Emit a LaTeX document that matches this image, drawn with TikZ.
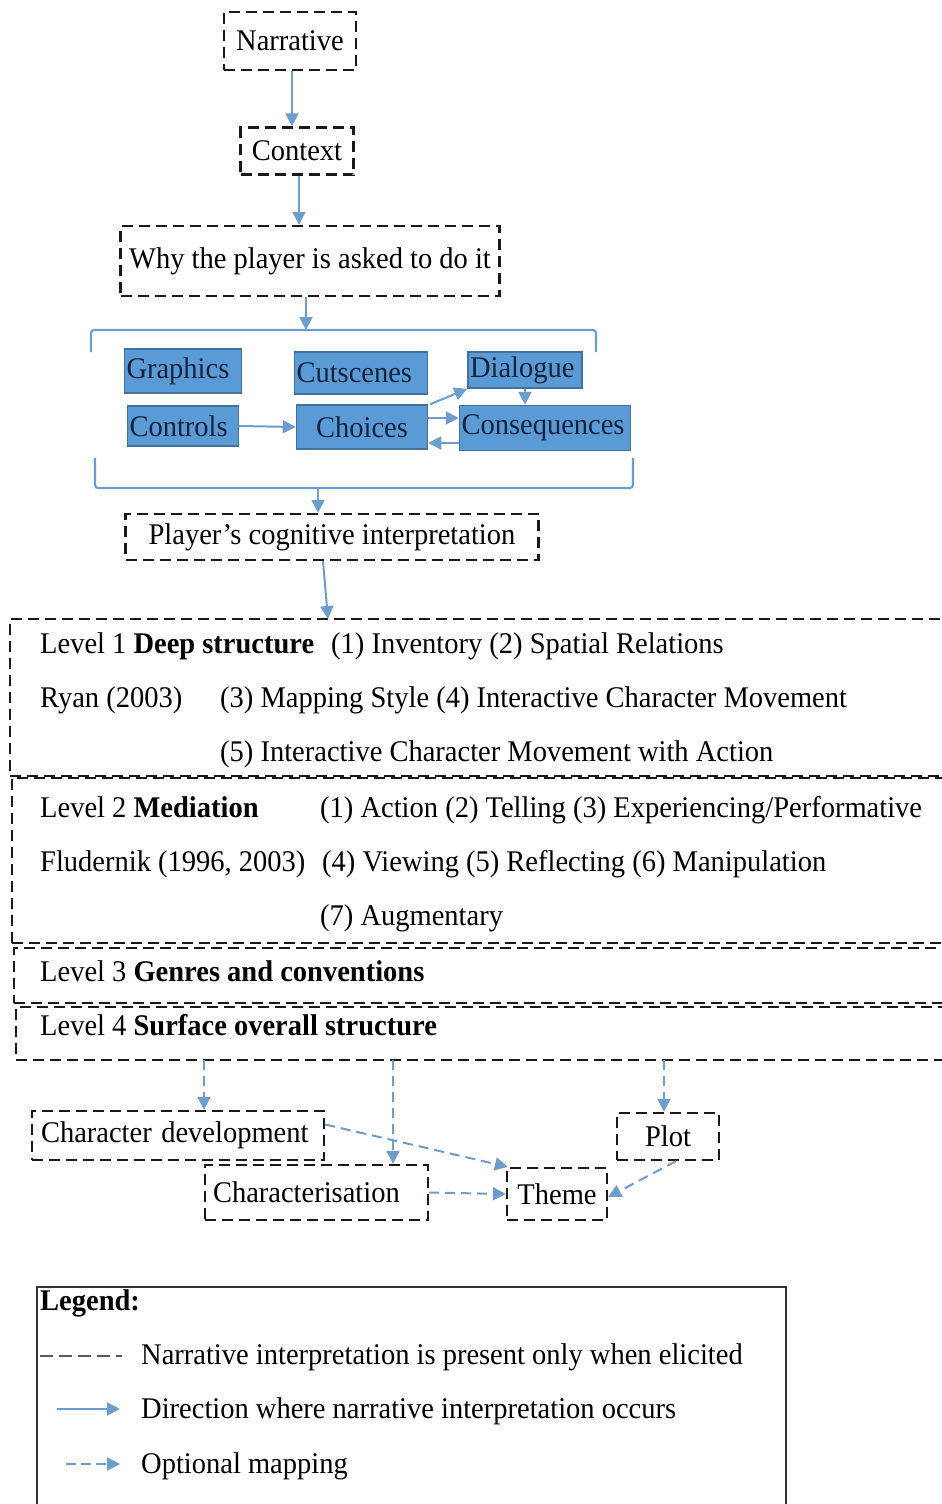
\documentclass[tikz,border=0pt]{standalone}
\usepackage{fontspec}
\usepackage{graphicx}
\setmainfont{Liberation Serif}
\usetikzlibrary{arrows.meta}
\definecolor{boxblue}{HTML}{5B9BD5}
\definecolor{boxedge}{HTML}{41719C}
\definecolor{flowblue}{HTML}{6C9DCC}
\definecolor{inkdark}{HTML}{16233F}
% slightly condensed text
\newcommand\cnd[1]{\scalebox{0.95}[1]{#1}}
\begin{document}
\begin{tikzpicture}[x=1pt,y=-1pt,
  font=\fontsize{30}{34}\selectfont,
  dbox/.style={draw=black!90, dash pattern=on 11pt off 6pt, line width=2.3pt,
    inner sep=0pt, anchor=center},
  bluebox/.style={draw=boxedge, fill=boxblue, line width=1.5pt, text=inkdark,
    inner xsep=2pt, inner ysep=0pt, anchor=center, align=left},
  txt/.style={inner sep=0pt, anchor=base west},
  flow/.style={draw=flowblue, line width=2pt, -{Triangle[length=13pt,width=13pt]}},
  optflow/.style={flow, dash pattern=on 10pt off 6pt},
  bracketline/.style={draw=flowblue, line width=2.2pt, rounded corners=3pt},
]
\useasboundingbox (0,0) rectangle (942,1504);
\fill[white] (0,0) rectangle (942,1504);

% ---- top chain ----
\node[dbox, minimum width=132pt, minimum height=58pt] (narr) at (290,41) {\cnd{Narrative}};
\node[dbox, minimum width=113pt, minimum height=47pt] (ctx) at (297,151) {\cnd{Context}};
\node[dbox, minimum width=379pt, minimum height=70pt] (why) at (310,261) {\cnd{Why the player is asked to do it}};
\coordinate (a1) at (292,0);
\coordinate (a2) at (299,0);
\draw[flow] (narr.south -| a1) -- (ctx.north -| a1);
\draw[flow] (ctx.south -| a2) -- (why.north -| a2);

% ---- bracket group ----
\coordinate (topmid) at (306,330);
\coordinate (botmid) at (318,488);
\draw[bracketline] (91,352) -- (91,330) -- (596,330) -- (596,352);
\draw[bracketline] (95,458) -- (95,488) -- (633,488) -- (633,458);
\draw[flow] (why.south -| topmid) -- (topmid);

\node[bluebox, minimum width=117pt, minimum height=44pt, text width=113pt] (gfx) at (183,371) {\cnd{Graphics}};
\node[bluebox, minimum width=133pt, minimum height=42pt, text width=129pt] (cut) at (361,373) {\cnd{Cutscenes}};
\node[bluebox, minimum width=114pt, minimum height=36pt, text width=110pt] (dia) at (525,370) {\cnd{Dialogue}};
\node[bluebox, minimum width=111pt, minimum height=40pt, text width=107pt] (ctl) at (183,426) {\cnd{Controls}};
\node[bluebox, minimum width=131pt, minimum height=44pt, text width=127pt, align=center] (cho) at (362,427) {\cnd{Choices}};
\node[bluebox, minimum width=171pt, minimum height=45pt, text width=167pt] (con) at (545,428) {\cnd{Consequences}};

\draw[flow] (ctl.east) -- (cho.west);
\draw[flow] (cho.north east) ++(2,0) -- (dia.south west);
\draw[flow] (dia.south) -- (dia.south |- con.north);
\draw[flow] ([yshift=9pt]cho.east) -- ([yshift=9pt]cho.east -| con.west);
\draw[flow] ([yshift=-15pt]con.west) -- ([yshift=-15pt]con.west -| cho.east);

% ---- interpretation ----
\node[dbox, minimum width=413pt, minimum height=46pt] (pci) at (332,537) {\cnd{Player’s cognitive interpretation}};
\draw[flow] (botmid) -- (botmid |- pci.north);

% ---- levels ----
\node[dbox, minimum width=956pt, minimum height=157pt] (lev1) at (488,697.5) {};
\node[dbox, minimum width=954pt, minimum height=165pt] (lev2) at (489,860.5) {};
\node[dbox, minimum width=952pt, minimum height=55pt] (lev3) at (490,975.5) {};
\node[dbox, minimum width=950pt, minimum height=53pt] (lev4) at (491,1033.5) {};
\draw[flow] (pci.south -| 323,0) -- (328,619);

\node[txt] (l1a) at (40,653) {\cnd{Level 1 \textbf{Deep structure}}};
\node[txt] (l1b) at (331,653) {\cnd{(1) Inventory (2) Spatial Relations}};
\node[txt] (l1c) at (40,707) {\cnd{Ryan (2003)}};
\node[txt] (l1d) at (220,707) {\cnd{(3) Mapping Style (4) Interactive Character Movement}};
\node[txt] (l1e) at (220,761) {\cnd{(5) Interactive Character Movement with Action}};

\node[txt] (l2a) at (40,817) {\cnd{Level 2 \textbf{Mediation}}};
\node[txt] (l2b) at (320,817) {\cnd{(1) Action (2) Telling (3) Experiencing/Performative}};
\node[txt] (l2c) at (40,871) {\cnd{Fludernik (1996, 2003)}};
\node[txt] (l2d) at (322,871) {\cnd{(4) Viewing (5) Reflecting (6) Manipulation}};
\node[txt] (l2e) at (320,925) {\cnd{(7) Augmentary}};

\node[txt] (l3) at (40,981) {\cnd{Level 3 \textbf{Genres and conventions}}};
\node[txt] (l4) at (40,1035) {\cnd{Level 4 \textbf{Surface overall structure}}};

% ---- elements ----
\node[dbox, minimum width=292pt, minimum height=49pt, inner xsep=9pt, text width=274pt, align=left] (cdev) at (178,1135.5) {\cnd{Character development}};
\node[dbox, minimum width=102pt, minimum height=47pt] (plot) at (668,1136.5) {\cnd{Plot}};
\node[dbox, minimum width=223pt, minimum height=55pt, inner xsep=8pt, text width=207pt, align=left] (chz) at (316.5,1192.5) {\cnd{Characterisation}};
\node[dbox, minimum width=100pt, minimum height=52pt] (theme) at (557,1194) {\cnd{Theme}};

\coordinate (s1) at (204,1060);
\coordinate (s2) at (393,1060);
\coordinate (s3) at (664,1060);
\draw[optflow] (s1) -- (s1 |- cdev.north);
\draw[optflow] (s2) -- (s2 |- chz.north);
\draw[optflow] (s3) -- (s3 |- plot.north);
\draw[optflow] ([yshift=11pt]cdev.east) -- ([xshift=2pt]theme.north west);
\draw[optflow] (chz.east) -- (theme.west);
\draw[optflow] ([xshift=8pt]plot.south) -- ([yshift=-3pt]theme.east);

% ---- legend ----
\node[draw=black!80, line width=1.8pt, minimum width=749pt, minimum height=240pt,
  inner sep=0pt, anchor=north west] (leg) at (36,1286) {};
\node[txt] (legt) at (40,1310) {\cnd{\textbf{Legend:}}};
\coordinate (ka) at (40,1356);
\coordinate (kb) at (122,1356);
\draw[draw=black!65, line width=2pt, dash pattern=on 13pt off 6pt] (ka) -- (kb);
\node[txt] (lg1) at (141,1364) {\cnd{Narrative interpretation is present only when elicited}};
\coordinate (kc) at (57,1409);
\coordinate (kd) at (120,1409);
\draw[flow] (kc) -- (kd);
\node[txt] (lg2) at (141,1418) {\cnd{Direction where narrative interpretation occurs}};
\coordinate (ke) at (66,1464);
\coordinate (kf) at (120,1464);
\draw[flow, dash pattern=on 10pt off 5pt] (ke) -- (kf);
\node[txt] (lg3) at (141,1473) {\cnd{Optional mapping}};
\end{tikzpicture}
\end{document}
